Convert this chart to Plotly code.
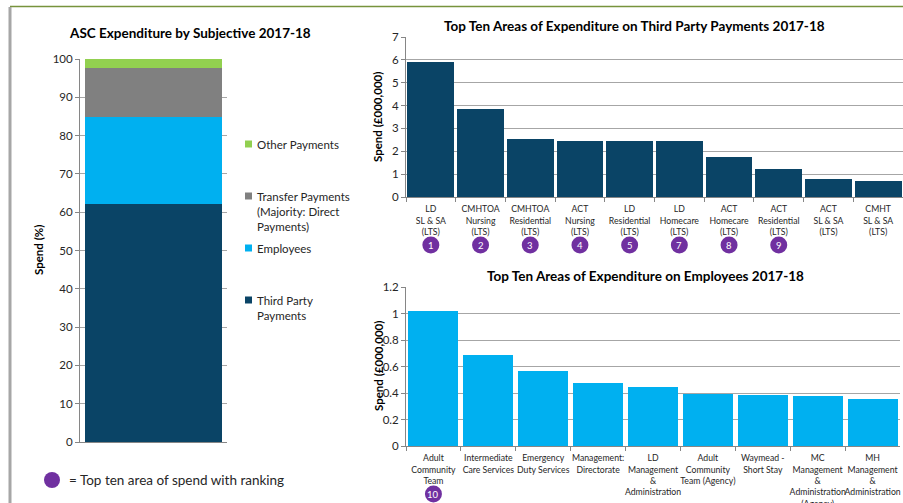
import plotly.graph_objects as go

W, H = 903, 503
def px(x): return x / W
def py(y): return 1 - y / H

FONT = "Lato"
TXT = "#262626"
GRID = "#A6A6A6"
AXIS = "#868686"
PURPLE = "#7030A0"

# ---------------- data ----------------
subj_names = ["Third Party Payments", "Employees",
              "Transfer Payments (Majority: Direct Payments)", "Other Payments"]
subj_legend = ["Third Party<br>Payments", "Employees",
               "Transfer Payments<br>(Majority: Direct<br>Payments)", "Other Payments"]
subj_values = [62.1, 22.8, 12.7, 2.4]
subj_colors = ["#0A4466", "#00B0F0", "#808080", "#92D050"]
subj_ticks = [0, 10, 20, 30, 40, 50, 60, 70, 80, 90, 100]

tp_categories = ["LD<br>SL & SA<br>(LTS)", "CMHTOA<br>Nursing<br>(LTS)", "CMHTOA<br>Residential<br>(LTS)",
                 "ACT<br>Nursing<br>(LTS)", "LD<br>Residential<br>(LTS)", "LD<br>Homecare<br>(LTS)",
                 "ACT<br>Homecare<br>(LTS)", "ACT<br>Residential<br>(LTS)", "ACT<br>SL & SA<br>(LTS)",
                 "CMHT<br>SL & SA<br>(LTS)"]
tp_values = [5.90, 3.83, 2.54, 2.47, 2.43, 2.43, 1.74, 1.24, 0.80, 0.70]
tp_ranks = [1, 2, 3, 4, 5, 7, 8, 9, None, None]

emp_categories = ["Adult<br>Community<br>Team", "Intermediate<br>Care Services", "Emergency<br>Duty Services",
                  "Management:<br>Directorate", "LD<br>Management<br>&<br>Administration",
                  "Adult<br>Community<br>Team (Agency)", "Waymead -<br>Short Stay",
                  "MC<br>Management<br>&<br>Administration<br>(Agency)",
                  "MH<br>Management<br>&<br>Administration"]
emp_values = [1.02, 0.69, 0.567, 0.477, 0.442, 0.389, 0.382, 0.377, 0.351]
emp_ranks = [10, None, None, None, None, None, None, None, None]

fig = go.Figure()

# ---------------- left stacked bar ----------------
for name, val, col in zip(subj_names, subj_values, subj_colors):
    fig.add_trace(go.Bar(x=["ASC"], y=[val], name=name, marker_color=col,
                         marker_line_width=0, width=0.93, xaxis="x", yaxis="y",
                         showlegend=False))

# ---------------- third party ----------------
fig.add_trace(go.Bar(x=tp_categories, y=tp_values, marker_color=subj_colors[0],
                     marker_line_width=0, width=0.94, xaxis="x2", yaxis="y2", showlegend=False))

# ---------------- employees ----------------
fig.add_trace(go.Bar(x=emp_categories, y=emp_values, marker_color=subj_colors[1],
                     marker_line_width=0, width=0.91, xaxis="x3", yaxis="y3", showlegend=False))

yax_common = dict(showline=True, linecolor=AXIS, linewidth=1, ticks="outside", ticklen=4,
                  tickcolor=AXIS, showgrid=True, gridcolor=GRID, gridwidth=1, zeroline=False,
                  tickfont=dict(size=11.5, color=TXT, family=FONT), fixedrange=True,
                  automargin=False)
xax_common = dict(showline=True, linecolor=AXIS, linewidth=1, showgrid=False, zeroline=False,
                  fixedrange=True, type="category", automargin=False)

fig.update_layout(
    width=W, height=H, margin=dict(l=0, r=0, t=0, b=0, pad=0), autosize=False,
    paper_bgcolor="white", plot_bgcolor="white",
    barmode="stack",
    font=dict(family=FONT, color=TXT),
    xaxis=dict(domain=[px(80), px(227)], showticklabels=False, ticks="", range=[-0.5, 0.5],
               **xax_common),
    yaxis=dict(domain=[py(442), py(59)], range=[0, 100], tickvals=subj_ticks, **yax_common),
    xaxis2=dict(domain=[px(406), px(903)], anchor="y2", ticks="outside", tickson="boundaries",
                ticklen=4, tickcolor=AXIS, tickangle=0, ticklabelstandoff=4,
                tickfont=dict(size=8.7, color=TXT, family=FONT), **xax_common),
    yaxis2=dict(domain=[py(197), py(37)], anchor="x2", range=[0, 7], dtick=1, **yax_common),
    xaxis3=dict(domain=[px(406), px(900)], anchor="y3", ticks="outside", tickson="boundaries",
                ticklen=4, tickcolor=AXIS, tickangle=0, ticklabelstandoff=4,
                tickfont=dict(size=8.7, color=TXT, family=FONT), **xax_common),
    yaxis3=dict(domain=[py(446), py(287)], anchor="x3", range=[0, 1.2], dtick=0.2,
                **yax_common),
)

ann = []
shapes = []

def add_text(x, y, text, size, bold=False, angle=0, xanchor="center", align="center", color=TXT):
    ann.append(dict(x=px(x), y=py(y), xref="paper", yref="paper", text=f"<b>{text}</b>" if bold else text,
                    showarrow=False, font=dict(size=size, color=color, family=FONT),
                    xanchor=xanchor, yanchor="middle", textangle=angle, align=align))

# ranking badges (placed on the category axes)
def add_badges(ranks, xref, ypix):
    for i, r in enumerate(ranks):
        if r is None:
            continue
        shapes.append(dict(type="circle", xref=xref, yref="paper", xsizemode="pixel",
                           ysizemode="pixel", xanchor=i, yanchor=py(ypix),
                           x0=-8.5, x1=8.5, y0=-8.5, y1=8.5,
                           fillcolor=PURPLE, line_width=0, layer="above"))
        ann.append(dict(x=i, y=py(ypix), xref=xref, yref="paper", text=str(r), showarrow=False,
                        font=dict(size=9.5, color="white", family=FONT),
                        xanchor="center", yanchor="middle"))

add_badges(tp_ranks, "x2", 245)
add_badges(emp_ranks, "x3", 494)

add_text(190, 33, "ASC Expenditure by Subjective 2017-18", 13.5, bold=True, color="#000")
add_text(634, 26, "Top Ten Areas of Expenditure on Third Party Payments 2017-18", 13.5, bold=True, color="#000")
add_text(645, 276, "Top Ten Areas of Expenditure on Employees 2017-18", 13.5, bold=True, color="#000")
add_text(38, 250, "Spend (%)", 11.5, bold=True, angle=-90, color="#000")
add_text(378, 117, "Spend (£000,000)", 11.5, bold=True, angle=-90, color="#000")
add_text(378, 366, "Spend (£000,000)", 11.5, bold=True, angle=-90, color="#000")

# legend of left chart (top to bottom: reversed stacking order)
legend_y = [300, 248, 196, 144]
for lab, col, ly in zip(subj_legend, subj_colors, legend_y):
    shapes.append(dict(type="rect", xref="paper", yref="paper",
                       x0=px(245), x1=px(252), y0=py(ly + 3.5), y1=py(ly - 3.5),
                       fillcolor=col, line_width=0))
    ann.append(dict(x=px(255), y=py(ly - 8), xref="paper", yref="paper", text=lab,
                    showarrow=False, font=dict(size=11.5, color=TXT, family=FONT),
                    xanchor="left", yanchor="top", align="left"))

# bottom key
shapes.append(dict(type="circle", xref="paper", yref="paper",
                   x0=px(44), x1=px(60), y0=py(488), y1=py(472), fillcolor=PURPLE, line_width=0))
add_text(67, 480, "= Top ten area of spend with ranking", 13.5, xanchor="left", color=TXT)

# frame lines
shapes.append(dict(type="line", xref="paper", yref="paper", x0=px(10), x1=px(903),
                   y0=py(6.5), y1=py(6.5), line=dict(color="#77933C", width=1.5)))
shapes.append(dict(type="line", xref="paper", yref="paper", x0=px(10), x1=px(10),
                   y0=py(7), y1=py(503), line=dict(color="#A6A6A6", width=3)))

fig.update_layout(annotations=ann, shapes=shapes)
fig.write_html("out.html", config={"displayModeBar": False},
               post_script="document.body.style.margin='0';document.body.style.overflow='hidden';")
